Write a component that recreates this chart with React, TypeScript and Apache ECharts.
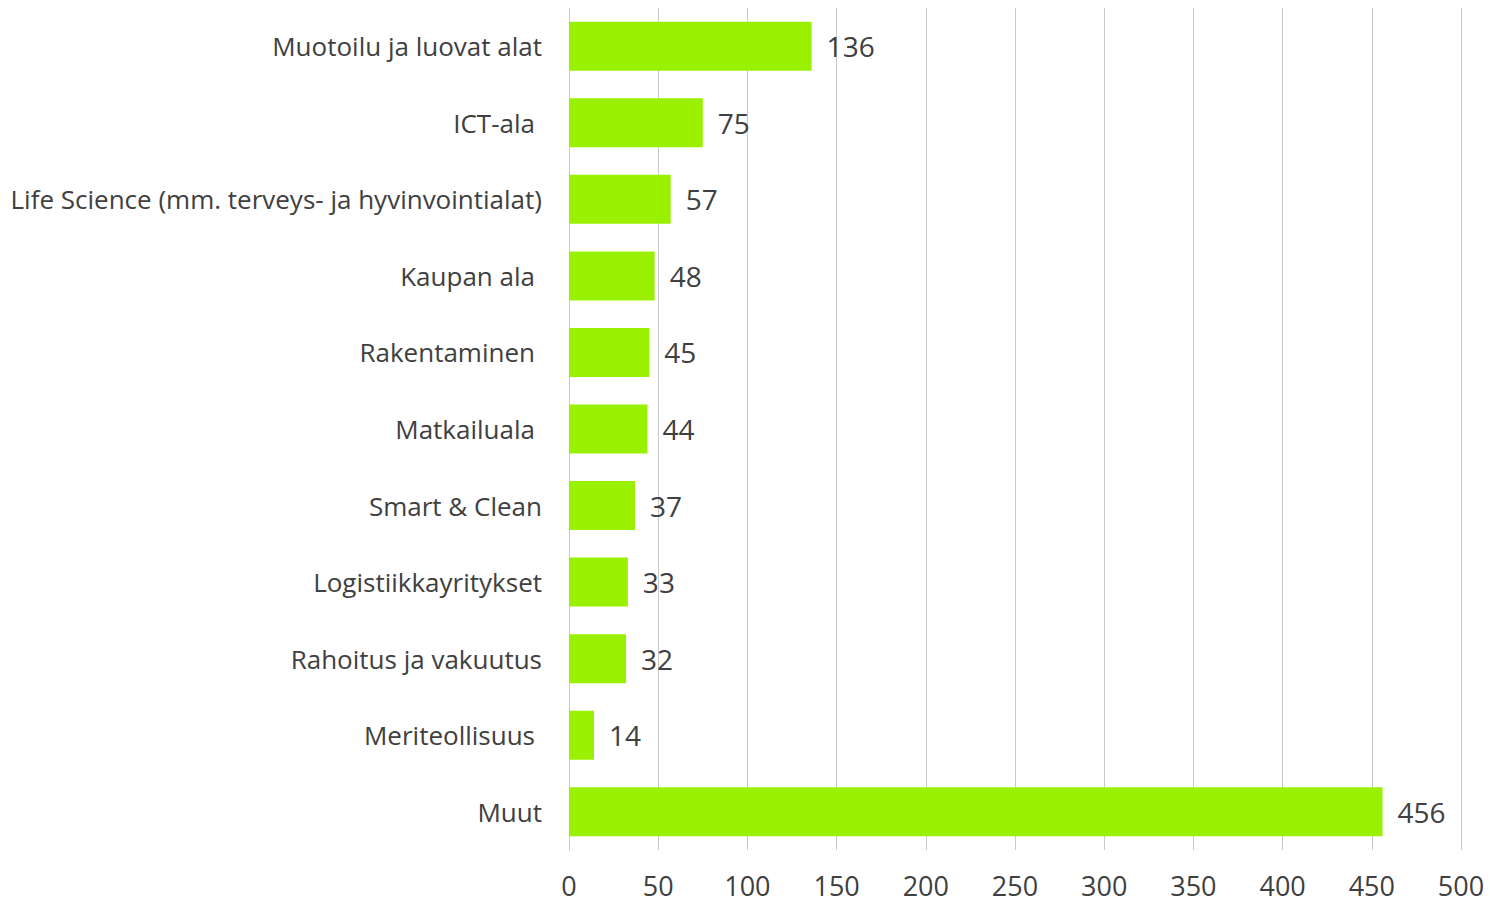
import React, { useEffect, useRef } from "react";
import * as echarts from "echarts";

const categories = [
  "Muotoilu ja luovat alat",
  "ICT-ala",
  "Life Science (mm. terveys- ja hyvinvointialat)",
  "Kaupan ala",
  "Rakentaminen",
  "Matkailuala",
  "Smart & Clean",
  "Logistiikkayritykset",
  "Rahoitus ja vakuutus",
  "Meriteollisuus",
  "Muut",
];
const values = [136, 75, 57, 48, 45, 44, 37, 33, 32, 14, 456];
const trailingSpace = [false, true, false, true, true, true, false, false, false, true, false];

export default function App() {
  const ref = useRef<HTMLDivElement>(null);
  useEffect(() => {
    document.body.style.margin = "0";
    const chart = echarts.init(ref.current!, null, { renderer: "svg" });
    const font = "'Open Sans', sans-serif";
    chart.setOption({
      animation: false,
      grid: { left: 569, right: 29, top: 8, bottom: 56, containLabel: false },
      xAxis: {
        type: "value",
        min: 0,
        max: 500,
        interval: 50,
        axisLine: { show: false },
        axisTick: { show: false },
        splitLine: { show: true, lineStyle: { color: "#c8c8c8", width: 1 } },
        axisLabel: { color: "#404040", fontSize: 27, lineHeight: 27, fontFamily: font, margin: 22 },
      },
      yAxis: {
        type: "category",
        inverse: true,
        data: categories,
        axisLine: { show: true, lineStyle: { color: "#c8c8c8" } },
        axisTick: { show: false },
        axisLabel: {
          color: "#404040",
          fontSize: 26,
          fontFamily: font,
          margin: 27,
          formatter: (v: string, i: number) => (trailingSpace[i] ? `{p|${v}}` : v),
          rich: { p: { padding: [0, 7, 0, 0], color: "#404040", fontSize: 26, fontFamily: font } },
        },
      },
      series: [
        {
          type: "bar",
          data: values,
          barCategoryGap: "36%",
          itemStyle: { color: "#99F000" },
          label: {
            show: true,
            position: "right",
            distance: 15,
            color: "#404040",
            fontSize: 28,
            fontFamily: font,
          },
        },
      ],
    });
    return () => chart.dispose();
  }, []);
  return <div ref={ref} style={{ width: 1490, height: 906 }} />;
}
